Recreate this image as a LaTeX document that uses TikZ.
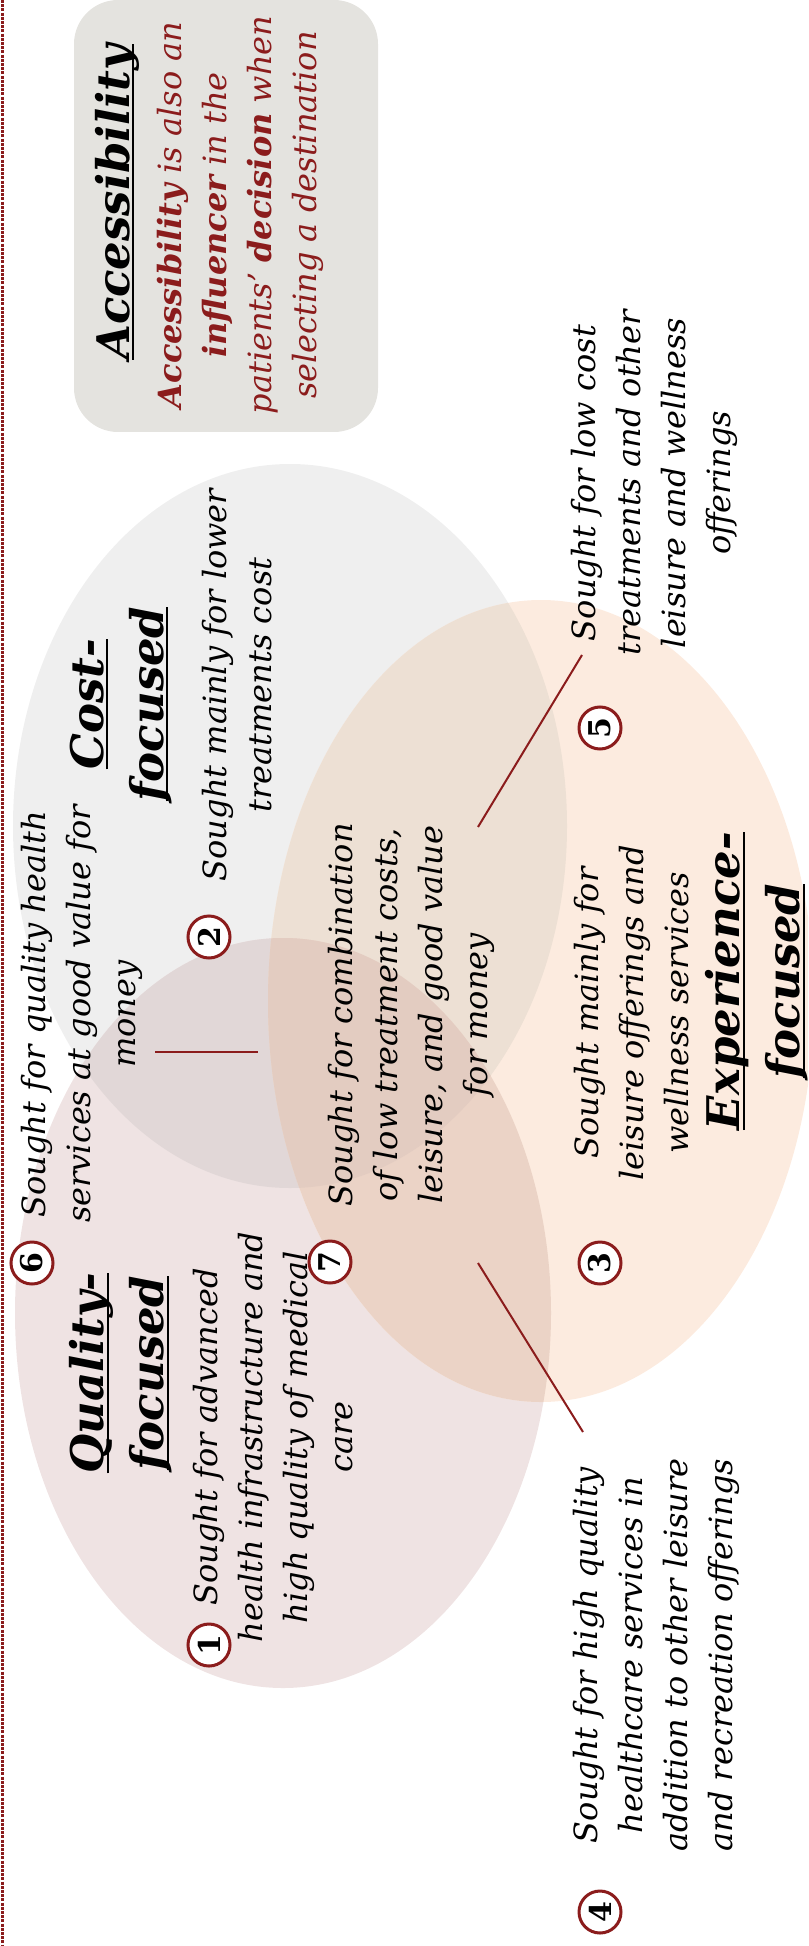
\documentclass[tikz,border=0pt]{standalone}
\usepackage{fontspec}
\setmainfont{DejaVu Serif}
\definecolor{darkred}{RGB}{139,28,28}
\definecolor{costgray}{RGB}{239,239,239}
\definecolor{qualpink}{RGB}{239,227,227}
\definecolor{exporange}{RGB}{252,235,223}
\definecolor{costqual}{RGB}{225,215,215}
\definecolor{costexp}{RGB}{237,224,212}
\definecolor{qualexp}{RGB}{235,211,198}
\definecolor{allthree}{RGB}{227,204,193}
\definecolor{boxgray}{RGB}{228,227,223}
\tikzstyle{bodytext}=[rotate=90,align=center,inner sep=0pt,font=\itshape\fontsize{16}{22.5}\selectfont]
\tikzstyle{headtext}=[rotate=90,align=center,inner sep=0pt,font=\bfseries\itshape\fontsize{22.5}{30}\selectfont]
\tikzstyle{numcircle}=[circle,draw=darkred,line width=1.5pt,fill=white,minimum size=21pt,inner sep=0pt,rotate=90,font=\bfseries\fontsize{15}{15}\selectfont]
\tikzstyle{accbox}=[fill=boxgray,rounded corners=22pt,minimum width=152pt,minimum height=216pt,inner sep=0pt]
\tikzstyle{leader}=[darkred,line width=1pt]
\newsavebox\hdbox
\newcommand{\hdul}[1]{\sbox\hdbox{#1}\rlap{\rule[-2.5pt]{\wd\hdbox}{1pt}}\usebox\hdbox}
\newcommand{\drawnumber}[3]{
  \node[numcircle] (#1) at (#2) {#3};
}

\begin{document}
\begin{tikzpicture}[x=0.5pt,y=-0.5pt]
  \useasboundingbox (0,0) rectangle (808,1946);
  \clip (0,0) rectangle (808,1946);
  \draw[darkred,line width=1.5pt,dash pattern=on 1.5pt off 0.6pt] (2,0) -- (2,1946);

  % three segments
  \fill[costgray] (290,826) ellipse (277 and 362);
  \fill[qualpink] (283,1313) ellipse (268 and 375);
  \fill[exporange] (541,1001) ellipse (273 and 401);
  \begin{scope}
    \clip (290,826) ellipse (277 and 362);
    \fill[costqual] (283,1313) ellipse (268 and 375);
    \fill[costexp] (541,1001) ellipse (273 and 401);
  \end{scope}
  \begin{scope}
    \clip (283,1313) ellipse (268 and 375);
    \fill[qualexp] (541,1001) ellipse (273 and 401);
  \end{scope}
  \begin{scope}
    \clip (290,826) ellipse (277 and 362);
    \clip (283,1313) ellipse (268 and 375);
    \fill[allthree] (541,1001) ellipse (273 and 401);
  \end{scope}

  % accessibility
  \node[accbox] (accbox) at (226,216) {};
  \node[headtext] (acchead) at (117,202) {\hdul{Accessibility}};
  \node[bodytext,text=darkred] (acctext) at (240,215) {\textbf{Accessibility} is also an\\
    \textbf{influencer} in the\\ patients’ \textbf{decision} when\\ selecting a destination};

  \node[headtext] (costhead) at (121,704) {\hdul{Cost-}\\\hdul{focused}};
  \node[bodytext] (costtext) at (237,685) {Sought mainly for lower\\treatments cost};
  \node[bodytext] (lowcost) at (654,483) {Sought for low cost\\treatments and other\\leisure and wellness\\offerings};
  \node[bodytext] (valuetext) at (82,1014) {Sought for quality health\\services at good value for\\money};
  \node[bodytext] (combotext) at (411,1015) {Sought for combination\\of low treatment costs,\\leisure, and good value\\for money};
  \node[bodytext] (exptext) at (632,1013) {Sought mainly for\\leisure offerings and\\wellness services};
  \node[headtext] (exphead) at (757,981) {\hdul{Experience-}\\\hdul{focused}};
  \node[headtext] (qualhead) at (121,1373) {\hdul{Quality-}\\\hdul{focused}};
  \node[bodytext] (qualtext) at (273,1437) {Sought for advanced\\health infrastructure and\\high quality of medical\\care};
  \node[bodytext] (hightext) at (656,1655) {Sought for high quality\\healthcare services in\\addition to other leisure\\and recreation offerings};

  % leader lines
  \coordinate (combotop) at (478,827);
  \coordinate (lowcostend) at (582,655);
  \coordinate (combobot) at (478,1263);
  \coordinate (highend) at (583,1432);
  \coordinate (valueend) at (155,1052);
  \coordinate (overlapend) at (258,1052);
  \draw[leader] (combotop) -- (lowcostend); %5
  \draw[leader] (combobot) -- (highend); %4
  \draw[leader] (valueend) -- (overlapend); %6

  \drawnumber{n1}{209,1645}{1}
  \drawnumber{n2}{209,937}{2}
  \drawnumber{n3}{600,1263}{3}
  \drawnumber{n4}{600,1912}{4}
  \drawnumber{n5}{600,728}{5}
  \drawnumber{n6}{32,1263}{6}
  \drawnumber{n7}{330,1262}{7}
\end{tikzpicture}
\end{document}
